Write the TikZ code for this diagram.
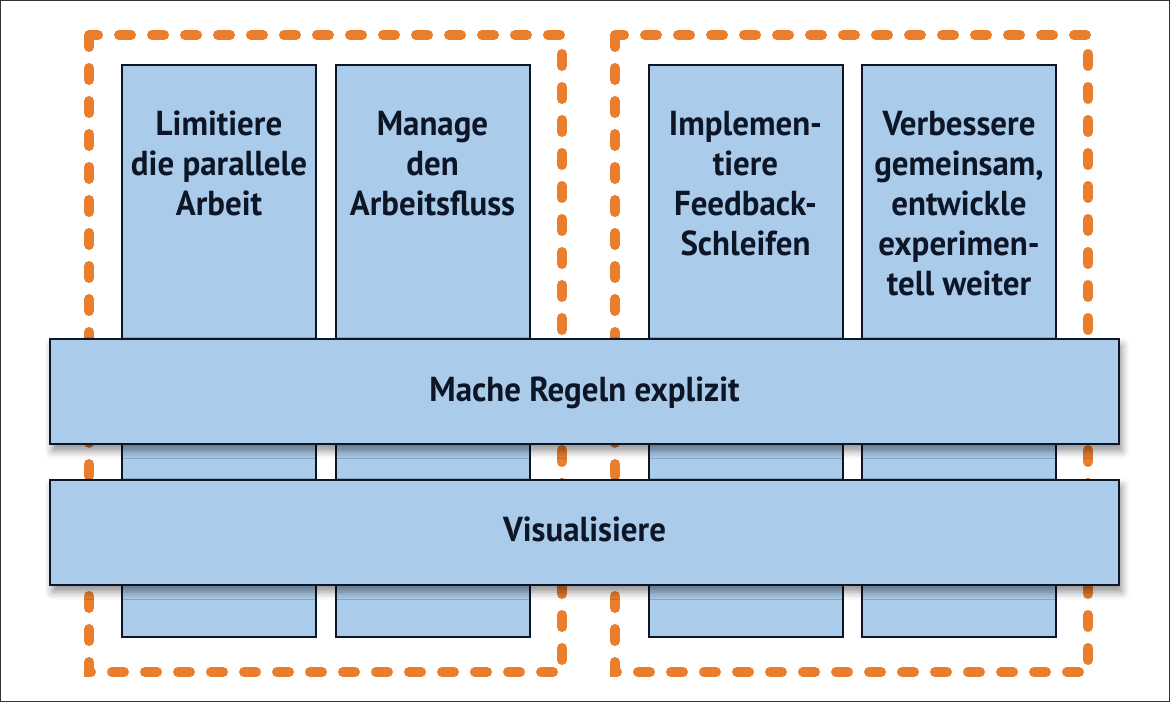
\documentclass[tikz,border=0pt]{standalone}
\usepackage{fontspec}
\setmainfont{PT Sans}
\usepackage{xcolor}
\usetikzlibrary{shadows.blur}
\newfontfamily\labelfont[FakeStretch=0.95]{PT Sans}
\definecolor{boxblue}{HTML}{AACBEA}
\definecolor{edgeblue}{HTML}{0D1626}
\definecolor{dashorange}{HTML}{EA7E2C}

\begin{document}
\begin{tikzpicture}[x=0.75pt,y=-0.75pt,
  column/.style={draw=edgeblue,line width=1.5pt,fill=boxblue,inner sep=0pt,
    minimum width=145.5pt,minimum height=429pt},
  bar/.style={draw=edgeblue,line width=2.2pt,fill=boxblue,inner sep=0pt,
    minimum width=801.75pt,minimum height=78.75pt,
    blur shadow={shadow xshift=2pt,shadow yshift=-5pt,shadow blur radius=6pt,shadow opacity=45}},
  coltext/.style={anchor=north,align=center,inner sep=0pt,text=edgeblue,
    font=\labelfont\bfseries\fontsize{26}{30}\selectfont},
  bartext/.style={inner sep=0pt,text=edgeblue,font=\labelfont\bfseries\fontsize{26}{30}\selectfont},
  dashbox/.style={draw=dashorange,line width=7.5pt,line cap=round,
    dash pattern=on 9pt off 15.75pt}]
  \useasboundingbox (0,0) rectangle (1170,702);

  \draw[dashbox] (89,35) rectangle (562,672);
  \draw[dashbox] (615,35) rectangle (1088,672);

  \foreach \name/\x in {limit/219,manage/432.5,feedback/745.5,improve/959}
    \node[column] (\name) at (\x,351) {};

  \node[coltext] (limittext) at (219,111) {Limitiere\\die parallele\\Arbeit};
  \node[coltext] (managetext) at (432.5,111) {Manage\\den\\Arbeitsfluss};
  \node[coltext] (feedbacktext) at (745.5,111) {Implemen-\\tiere\\Feedback-\\Schleifen};
  \node[coltext] (improvetext) at (959,111) {Verbessere\\gemeinsam,\\entwickle\\experimen-\\tell weiter};

  \node[bar] (rules) at (584.5,391.5) {};
  \node[bartext] (rulestext) at (584.5,393) {Mache Regeln explizit};
  \node[bar] (visual) at (584.5,532.5) {};
  \node[bartext] (visualtext) at (584.5,529) {Visualisiere};

  \draw[black!80,line width=1pt] (0.5,0.5) rectangle (1169.5,701.5);
\end{tikzpicture}
\end{document}
